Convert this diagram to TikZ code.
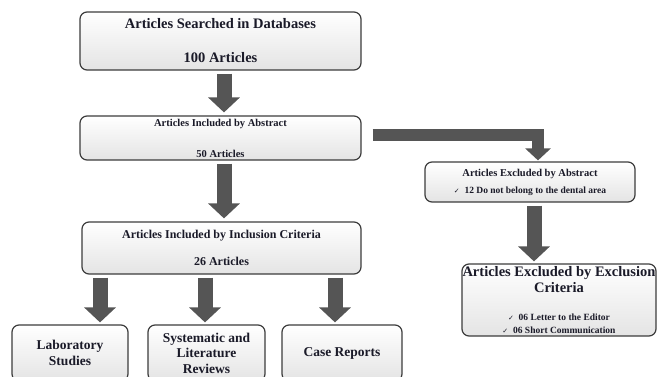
\documentclass[tikz,border=0pt]{standalone}
\usepackage{fontspec}
\setmainfont{Liberation Serif}
\newfontfamily\symfont{DejaVu Sans}
\usetikzlibrary{arrows.meta}
\definecolor{arr}{HTML}{555555}
\definecolor{boxline}{HTML}{3C3C3C}
\definecolor{boxfill}{HTML}{E4E4E4}
\definecolor{txt}{HTML}{1A1A28}
\newcommand{\ck}{{\symfont\mdseries\fontsize{7}{8}\selectfont ✓}}
\tikzset{
  box/.style={draw=boxline, line width=1.2pt, rounded corners=7pt, top color=white, bottom color=boxfill,
    align=center, inner sep=0pt, text=txt, font=\bfseries},
  blk/.style={draw=arr, line width=15pt, -{Triangle[width=31pt,length=15pt]}},
  blkthin/.style={draw=arr, line width=12pt, -{Triangle[width=25pt,length=12pt]}},
}
\begin{document}
\begin{tikzpicture}[x=1pt,y=-1pt]
\useasboundingbox (0,0) rectangle (657,376);
\node[box, minimum width=281pt, minimum height=58pt, font=\bfseries\fontsize{14.5}{17}\selectfont] (b1) at (220.5,41)
  {Articles Searched in Databases\\[17pt]100 Articles};
\node[box, minimum width=281pt, minimum height=44pt, font=\bfseries\fontsize{10.5}{12}\selectfont] (b2) at (220.5,138)
  {Articles Included by Abstract\\[19pt]50 Articles};
\node[box, minimum width=279pt, minimum height=52pt, font=\bfseries\fontsize{12}{13}\selectfont] (b3) at (221.5,248)
  {Articles Included by Inclusion Criteria\\[14pt]26 Articles};
\node[box, minimum width=116pt, minimum height=56pt, font=\bfseries\fontsize{13.5}{16}\selectfont] (lab) at (70,353)
  {Laboratory\\Studies};
\node[box, minimum width=117pt, minimum height=56pt, font=\bfseries\fontsize{13.5}{15.5}\selectfont] (sys) at (206.5,353)
  {Systematic and\\Literature\\Reviews};
\node[box, minimum width=120pt, minimum height=56pt, font=\bfseries\fontsize{13.5}{16}\selectfont] (case) at (342,353)
  {Case Reports};
\node[box, minimum width=210pt, minimum height=40pt, font=\bfseries\fontsize{10.5}{11}\selectfont] (b4) at (530,182)
  {Articles Excluded by Abstract\\[6pt]{\fontsize{9.5}{11}\selectfont\ck\ \ 12 Do not belong to the dental area}};
\node[box, minimum width=194pt, minimum height=72pt, font=\bfseries\fontsize{14.5}{16}\selectfont] (b5) at (559,300)
  {Articles Excluded by Exclusion\\Criteria\\[12pt]{\fontsize{9.5}{12}\selectfont \ck\ \ 06 Letter to the Editor}\\[-3pt]{\fontsize{9.5}{12}\selectfont \ck\ \ 06 Short Communication}};
\draw[blk, shorten <=3pt, shorten >=3pt] (b1.south -| 224,0) -- (b2.north -| 224,0);
\draw[blk, shorten <=3pt, shorten >=3pt] (b2.south -| 224,0) -- (b3.north -| 224,0);
\draw[blk, shorten <=3pt, shorten >=2pt] (b3.south -| 100,0) -- (lab.north -| 100,0);
\draw[blk, shorten <=3pt, shorten >=2pt] (b3.south -| 205,0) -- (sys.north -| 205,0);
\draw[blk, shorten <=3pt, shorten >=2pt] (b3.south -| 335,0) -- (case.north -| 335,0);
\draw[blk, shorten <=3pt, shorten >=2pt] (b4.south -| 534,0) -- (b5.north -| 534,0);
\draw[blkthin, shorten <=11pt, shorten >=1pt] (b2.east |- 0,135) -| (b4.north -| 538,0);
\end{tikzpicture}
\end{document}
